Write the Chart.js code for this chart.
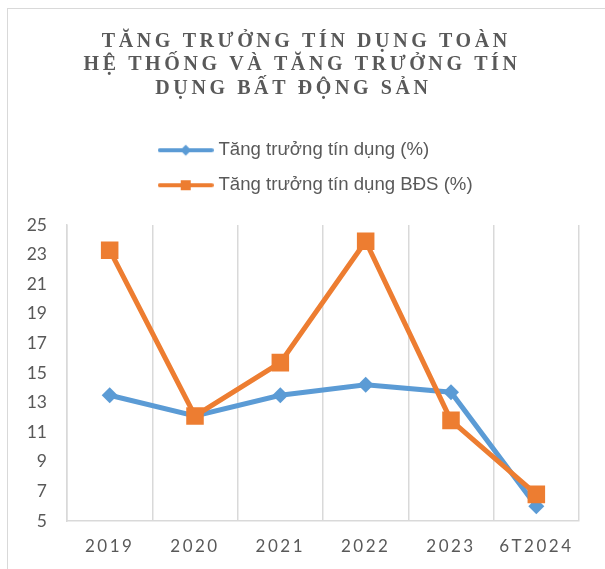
<!DOCTYPE html>
<html><head><meta charset="utf-8">
<script src="https://cdn.jsdelivr.net/npm/chart.js@4.4.1/dist/chart.umd.min.js"></script>
<style>
html,body{margin:0;padding:0;background:#fff;overflow:hidden}
#frame{position:absolute;left:7px;top:8px;width:700px;height:700px;border:1px solid #d9d9d9;box-sizing:border-box}
#wrap{position:absolute;left:0;top:0;width:605px;height:569px}
</style></head><body>
<div id="frame"></div>
<div id="wrap"><canvas id="c" width="605" height="569"></canvas></div>
<script>
const titleLines = [' TĂNG TRƯỞNG TÍN DỤNG TOÀN', 'HỆ THỐNG VÀ TĂNG TRƯỞNG TÍN', 'DỤNG BẤT ĐỘNG SẢN  '];
const categories = ['2019', '2020', '2021', '2022', '2023', '6T2024'];
const seriesNames = ['Tăng trưởng tín dụng (%)', 'Tăng trưởng tín dụng BĐS (%)'];
const creditGrowth = [13.5, 12.1, 13.5, 14.2, 13.7, 6.0];
const realEstateCreditGrowth = [23.3, 12.1, 15.7, 23.9, 11.8, 6.8];
const yMin = 5, yMax = 25, yStep = 2;

const BLUE = '#5B9BD5', ORANGE = '#ED7D31', TXT = '#595959', GRID = '#d9d9d9';

function legendMarker(color, kind) {
  const c = document.createElement('canvas');
  c.width = 56; c.height = 14;
  const g = c.getContext('2d');
  g.strokeStyle = color; g.lineWidth = 4; g.lineCap = 'round';
  g.beginPath(); g.moveTo(2, 7); g.lineTo(54, 7); g.stroke();
  g.fillStyle = color;
  if (kind === 'diamond') {
    g.beginPath(); g.moveTo(28, 1.5); g.lineTo(33.5, 7); g.lineTo(28, 12.5); g.lineTo(22.5, 7); g.closePath(); g.fill();
  } else {
    g.fillRect(23, 2, 10, 10);
  }
  return c;
}
const legendImgs = [legendMarker(BLUE, 'diamond'), legendMarker(ORANGE, 'square')];

const tweaks = {
  id: 'tweaks',
  beforeLayout(chart) {
    const lg = chart.legend;
    if (lg && !lg.__w) {
      lg.__w = true;
      const f = lg.fit;
      lg.fit = function () { f.call(this); this.height += 20.5; };
    }
    const tb = chart.titleBlock;
    if (tb && !tb.__w) {
      tb.__w = true;
      const d = tb.draw;
      tb.draw = function (a) { const c = this.ctx; c.save(); c.letterSpacing = '3.6px'; d.call(this, a); c.restore(); };
    }
    const xs = chart.scales.x;
    if (xs && !xs.__w) {
      xs.__w = true;
      const d = xs.drawLabels;
      xs.drawLabels = function (a) { const c = this.ctx; c.save(); c.letterSpacing = '2.5px'; d.call(this, a); c.restore(); };
    }
  },
  beforeDraw(chart) {
    const lg = chart.legend;
    if (lg && lg.lineWidths) lg.lineWidths = lg.lineWidths.map(() => 296);
  }
};

new Chart(document.getElementById('c'), {
  type: 'line',
  data: {
    labels: categories,
    datasets: [
      {
        label: seriesNames[0], data: creditGrowth,
        borderColor: BLUE, backgroundColor: BLUE, borderWidth: 5,
        pointStyle: 'rectRot', pointRadius: 8, pointBorderWidth: 0,
        pointBackgroundColor: BLUE, pointBorderColor: BLUE, order: 1, tension: 0
      },
      {
        label: seriesNames[1], data: realEstateCreditGrowth,
        borderColor: ORANGE, backgroundColor: ORANGE, borderWidth: 5,
        pointStyle: 'rect', pointRadius: 12.4, pointBorderWidth: 0,
        pointBackgroundColor: ORANGE, pointBorderColor: ORANGE, order: 0, tension: 0
      }
    ]
  },
  options: {
    responsive: false, animation: false, devicePixelRatio: 1,
    layout: { padding: { left: 25, right: 26, top: 0, bottom: 12.6 } },
    plugins: {
      tooltip: { enabled: false },
      title: {
        display: true, text: titleLines, color: TXT,
        font: { family: 'Liberation Serif', size: 20, weight: 'bold', lineHeight: 1.175 },
        padding: { top: 30, bottom: 24 }
      },
      legend: {
        display: true, position: 'top', align: 'center',
        labels: {
          usePointStyle: true, pointStyleWidth: 47, padding: 16.4, color: TXT,
          font: { family: 'Liberation Sans', size: 18.6 },
          sort: (a, b) => a.datasetIndex - b.datasetIndex,
          generateLabels(chart) {
            const items = Chart.defaults.plugins.legend.labels.generateLabels(chart);
            items.forEach((it) => { it.pointStyle = legendImgs[it.datasetIndex]; });
            return items;
          }
        }
      }
    },
    scales: {
      x: {
        offset: true,
        afterFit(s) { s.height = 35.4; },
        grid: { display: true, offset: true, color: GRID, lineWidth: 1.5, drawTicks: false },
        border: { display: true, color: GRID, width: 1.5 },
        ticks: { color: TXT, padding: 15, font: { family: 'Lato', size: 17 } }
      },
      y: {
        min: yMin, max: yMax,
        afterFit(s) { s.width = 42; },
        grid: { display: false, drawTicks: false },
        border: { display: true, color: GRID, width: 1.5 },
        ticks: { stepSize: yStep, color: TXT, padding: 20, font: { family: 'Lato', size: 17.5 } }
      }
    }
  },
  plugins: [tweaks]
});
</script>
</body></html>
